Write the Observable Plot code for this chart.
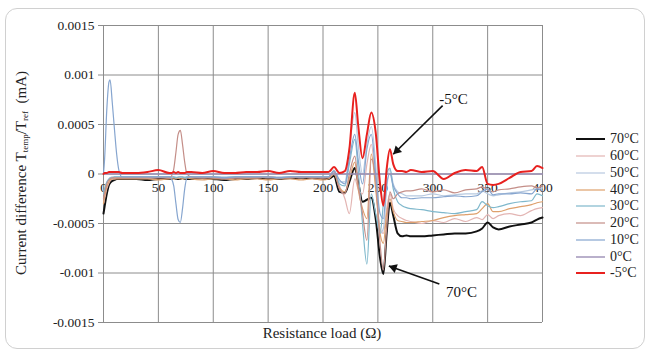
<!DOCTYPE html>
<html><head><meta charset="utf-8">
<script src="https://cdn.jsdelivr.net/npm/d3@7"></script>
<script src="https://cdn.jsdelivr.net/npm/@observablehq/plot@0.6"></script>
<style>
body{margin:0;background:#fff;}
#wrap{position:relative;width:650px;height:351px;font-family:'Liberation Serif','Times New Roman',serif;color:#222;overflow:hidden;background:#fff}
#frame{position:absolute;left:5px;top:8px;width:640px;height:341px;border:1px solid #d0d0d0;border-radius:12px;box-sizing:border-box}
#chart{position:absolute;left:0;top:0}
#chart svg, #chart svg text{font-family:'Liberation Serif','Times New Roman',serif !important}
#ylabel{position:absolute;left:21px;top:173px;transform:translate(-50%,-50%) rotate(-90deg);white-space:nowrap;font-size:15px}
#ylabel sub{font-size:9px;vertical-align:-2px}
#xlabel{position:absolute;left:322px;top:333px;transform:translate(-50%,-50%);white-space:nowrap;font-size:15px}
#legend{position:absolute;left:576px;top:131px;font-size:14px}
.item{display:flex;align-items:center;height:16.75px}
.item svg{margin-right:5px}
</style></head>
<body>
<div id="wrap">
  <div id="frame"></div>
  <div id="chart"></div>
  <div id="ylabel">Current difference T<sub>temp</sub>/T<sub>ref</sub> &nbsp;(mA)</div>
  <div id="xlabel">Resistance load (Ω)</div>
  <div id="legend"></div>
</div>
<script>
// Resistance load (Ω) sample points
const resistance = [0,1,3,5,6,8,10,12,14,17,20, 30,40,50,60, 62,64,66,68,70,72,74,76,80,
  90,100,110,120,130,140,150,160,170,180,190,200,
  205,210,215,220,224,229,232,236,240,244,248,252,255,258,261,264,268,272,276,280,
  290,300,310,320,330,340, 345,350,355,360, 370,380,390,395,400];

// Current difference (mA) per temperature
const c70 = [-40e-5,-33e-5,-20e-5,-11e-5,-9e-5,-7e-5,-6e-5,-5e-5,-5e-5,-5e-5,-5e-5,
  -5e-5,-6e-5,-5e-5,-5e-5,
  -5e-5,-4e-5,-5e-5,-5e-5,-5e-5,-4e-5,-5e-5,-5e-5,-5e-5,
  -4e-5,-5e-5,-6e-5,-5e-5,-5e-5,-4e-5,-5e-5,-5e-5,-4e-5,-4e-5,-4e-5,-5e-5,
  -5e-5,-2e-5,-18e-5,-19e-5,-8e-5,6e-5,-8e-5,-28e-5,-26e-5,-24e-5,-45e-5,-85e-5,-101e-5,-60e-5,-29e-5,-42e-5,-60e-5,-63e-5,-62e-5,-63e-5,
  -63e-5,-62e-5,-61e-5,-60e-5,-60e-5,-58e-5,
  -55e-5,-49e-5,-54e-5,-56e-5,
  -53e-5,-51e-5,-49e-5,-46e-5,-44e-5];
const c60 = [-30e-5,-25e-5,-15e-5,-9e-5,-7e-5,-5e-5,-5e-5,-4e-5,-4e-5,-4e-5,-4e-5,
  -4e-5,-4e-5,-3e-5,-4e-5,
  -4e-5,-3e-5,-4e-5,-4e-5,-3e-5,-4e-5,-4e-5,-3e-5,-4e-5,
  -4e-5,-3e-5,-4e-5,-4e-5,-4e-5,-3e-5,-4e-5,-4e-5,-3e-5,-4e-5,-3e-5,-4e-5,
  -3e-5,2e-5,-12e-5,-25e-5,-40e-5,-5e-5,-15e-5,-20e-5,10e-5,30e-5,-10e-5,-55e-5,-60e-5,-35e-5,-20e-5,-35e-5,-42e-5,-45e-5,-47e-5,-48e-5,
  -50e-5,-47e-5,-49e-5,-45e-5,-48e-5,-44e-5,
  -46e-5,-41e-5,-45e-5,-42e-5,
  -40e-5,-42e-5,-37e-5,-35e-5,-34e-5];
const c50 = [-20e-5,-15e-5,-9e-5,-5e-5,-4e-5,-3e-5,-3e-5,-3e-5,-3e-5,-3e-5,-3e-5,
  -3e-5,-3e-5,-3e-5,-3e-5,
  -3e-5,-3e-5,-3e-5,-4e-5,-3e-5,-3e-5,-3e-5,-3e-5,-3e-5,
  -3e-5,-3e-5,-3e-5,-3e-5,-3e-5,-3e-5,-3e-5,-3e-5,-3e-5,-3e-5,-3e-5,-3e-5,
  -3e-5,4e-5,-8e-5,-8e-5,25e-5,62e-5,30e-5,0,30e-5,48e-5,10e-5,-60e-5,-55e-5,-15e-5,5e-5,-10e-5,-18e-5,-20e-5,-22e-5,-22e-5,
  -22e-5,-20e-5,-22e-5,-21e-5,-20e-5,-20e-5,
  -17e-5,-20e-5,-22e-5,-21e-5,
  -19e-5,-18e-5,-16e-5,-15e-5,-14e-5];
const c40 = [-30e-5,-23e-5,-13e-5,-8e-5,-6e-5,-5e-5,-5e-5,-5e-5,-5e-5,-5e-5,-5e-5,
  -5e-5,-5e-5,-6e-5,-5e-5,
  -5e-5,-5e-5,-5e-5,-4e-5,-5e-5,-5e-5,-5e-5,-4e-5,-5e-5,
  -6e-5,-5e-5,-5e-5,-6e-5,-5e-5,-5e-5,-6e-5,-5e-5,-5e-5,-6e-5,-5e-5,-6e-5,
  -5e-5,0,-14e-5,-18e-5,-5e-5,12e-5,-15e-5,-35e-5,-45e-5,20e-5,-15e-5,-60e-5,-70e-5,-40e-5,-25e-5,-38e-5,-47e-5,-48e-5,-49e-5,-49e-5,
  -48e-5,-47e-5,-44e-5,-42e-5,-41e-5,-40e-5,
  -35e-5,-30e-5,-38e-5,-38e-5,
  -35e-5,-33e-5,-31e-5,-29e-5,-28e-5];
const c30 = [-20e-5,-15e-5,-8e-5,-5e-5,-4e-5,-4e-5,-3e-5,-3e-5,-3e-5,-3e-5,-3e-5,
  -3e-5,-3e-5,-3e-5,-3e-5,
  -3e-5,-3e-5,-4e-5,-3e-5,-3e-5,-3e-5,-4e-5,-3e-5,-3e-5,
  -3e-5,-3e-5,-4e-5,-3e-5,-3e-5,-3e-5,-3e-5,-4e-5,-3e-5,-3e-5,-3e-5,-3e-5,
  -3e-5,3e-5,-10e-5,-12e-5,10e-5,35e-5,5e-5,-50e-5,-91e-5,-20e-5,-40e-5,-60e-5,-30e-5,0,6e-5,-15e-5,-28e-5,-32e-5,-34e-5,-35e-5,
  -36e-5,-38e-5,-39e-5,-40e-5,-38e-5,-36e-5,
  -28e-5,-32e-5,-34e-5,-33e-5,
  -30e-5,-28e-5,-27e-5,-20e-5,-22e-5];
const c20 = [-25e-5,-19e-5,-10e-5,-6e-5,-5e-5,-4e-5,-4e-5,-4e-5,-4e-5,-4e-5,-4e-5,
  -4e-5,-4e-5,-4e-5,-4e-5,
  -2e-5,5e-5,22e-5,40e-5,44e-5,30e-5,12e-5,0,-3e-5,
  -4e-5,-4e-5,-5e-5,-4e-5,-4e-5,-4e-5,-3e-5,-4e-5,-4e-5,-3e-5,-4e-5,-4e-5,
  -4e-5,3e-5,-15e-5,-20e-5,0,18e-5,-10e-5,-40e-5,-67e-5,15e-5,-5e-5,-70e-5,-97e-5,-55e-5,-18e-5,-25e-5,-20e-5,-18e-5,-17e-5,-17e-5,
  -15e-5,-18e-5,-16e-5,-19e-5,-16e-5,-15e-5,
  -13e-5,-16e-5,-18e-5,-16e-5,
  -15e-5,-13e-5,-12e-5,-14e-5,-12e-5];
const c10 = [0,15e-5,65e-5,93e-5,95e-5,72e-5,45e-5,20e-5,4e-5,-3e-5,-3e-5,
  -3e-5,-3e-5,-3e-5,-3e-5,
  -5e-5,-12e-5,-30e-5,-46e-5,-49e-5,-35e-5,-15e-5,-4e-5,-3e-5,
  -3e-5,-3e-5,-4e-5,-3e-5,-3e-5,-3e-5,-3e-5,-4e-5,-3e-5,-3e-5,-3e-5,-3e-5,
  -3e-5,3e-5,-6e-5,-10e-5,15e-5,40e-5,15e-5,-10e-5,25e-5,40e-5,0,-40e-5,-45e-5,-10e-5,0,-12e-5,-20e-5,-24e-5,-24e-5,-25e-5,
  -24e-5,-24e-5,-23e-5,-22e-5,-23e-5,-22e-5,
  -18e-5,-15e-5,-21e-5,-20e-5,
  -20e-5,-19e-5,-20e-5,-15e-5,-17e-5];
const c0 = [0,0,0,0,0,0,0,0,0,0,0, 0,0,0,0, 0,0,0,0,0,0,0,0,0,
  0,0,0,0,0,0,0,0,0,0,0,0,
  0,0,0,0,0,0,0,0,0,0,0,0,0,0,0,0,0,0,0,0,
  0,0,0,0,0,0, 0,0,0,0, 0,0,0,0,0];
const cm5 = [0,1e-5,1e-5,2e-5,2e-5,2e-5,2e-5,2e-5,2e-5,1e-5,1e-5,
  1e-5,2e-5,4e-5,1e-5,
  1e-5,2e-5,1e-5,2e-5,1e-5,1e-5,1e-5,2e-5,2e-5,
  1e-5,3e-5,1e-5,1e-5,2e-5,2e-5,3e-5,1e-5,3e-5,2e-5,2e-5,2e-5,
  2e-5,7e-5,1e-5,3e-5,25e-5,82e-5,50e-5,16e-5,40e-5,62e-5,42e-5,-10e-5,-32e-5,5e-5,25e-5,10e-5,3e-5,3e-5,2e-5,4e-5,
  2e-5,3e-5,-5e-5,1e-5,4e-5,3e-5,
  7e-5,-10e-5,-11e-5,-10e-5,
  -4e-5,2e-5,3e-5,8e-5,6e-5];

const seriesNames = ["70°C","60°C","50°C","40°C","30°C","20°C","10°C","0°C","-5°C"];
const seriesValues = [c70,c60,c50,c40,c30,c20,c10,c0,cm5];

const xTicks = [0,50,100,150,200,250,300,350,400];
const yTickValues = [-0.0015,-0.001,-0.0005,0,0.0005,0.001,0.0015];
const yTickLabels = ["-0.0015","-0.001","-0.0005","0","0.0005","0.001","0.0015"];

// annotation: label anchor and arrow from/to (resistance, current)
const annLabels = ["-5°C","70°C"];
const annText = [[306,0.00076],[312,-0.00119]];
const annFrom = [[309,0.00069],[306,-0.00111]];
const annTo = [[264,0.00020],[260,-0.00093]];

// styles
const colors = {"70°C":"#111111","60°C":"#e3b5b3","50°C":"#b7c9df","40°C":"#dea06c","30°C":"#7fb8cc","20°C":"#c48e88","10°C":"#86a5cf","0°C":"#9b8fb5","-5°C":"#e8211f"};
const widths = {"70°C":2,"60°C":1.2,"50°C":1.2,"40°C":1.2,"30°C":1.2,"20°C":1.2,"10°C":1.2,"0°C":1.4,"-5°C":2};

const font = "Liberation Serif, Times New Roman, serif";

const lineMarks = seriesNames.map((name, k) => {
  const rows = resistance.map((r, i) => ({r, v: seriesValues[k][i]}));
  return Plot.line(rows, {x: "r", y: "v", stroke: colors[name], strokeWidth: widths[name], curve: "monotone-x"});
});

const ann = annLabels.map((t, i) => ({t, tx: annText[i][0], ty: annText[i][1],
  x1: annFrom[i][0], y1: annFrom[i][1], x2: annTo[i][0], y2: annTo[i][1]}));

function build(extra) {
  return Plot.plot({
    width: 650, height: 351,
    marginLeft: 103, marginRight: 108, marginTop: 25, marginBottom: 29,
    style: {fontFamily: font, fontSize: "13px", color: "#222", background: "transparent"},
    x: {domain: [0, 400], axis: null},
    y: {domain: [-0.0015, 0.0015], axis: null},
    marks: [
      Plot.gridX(xTicks, {stroke: "#8c8c8c", strokeOpacity: 1, strokeWidth: 1}),
      Plot.gridY(yTickValues, {stroke: "#8c8c8c", strokeOpacity: 1, strokeWidth: 1}),
      Plot.axisY(yTickValues, {tickSize: 5, tickPadding: 4, stroke: "#8c8c8c", fill: "#222", fontSize: 13.5,
        tickFormat: d => yTickLabels[yTickValues.indexOf(d)]}),
      Plot.text(xTicks, {x: d => d, y: 0, dy: 14, text: d => String(d), fill: "#222", fontSize: 13.5}),
      ...lineMarks,
      Plot.link(ann, {x1: "x1", y1: "y1", x2: "x2", y2: "y2", stroke: "#111", strokeWidth: 1.6}),
      Plot.text(ann, {x: "tx", y: "ty", text: "t", textAnchor: "start", fontSize: 15, fill: "#111"}),
      ...extra
    ]
  });
}

// first pass to get scales, then add filled arrowheads oriented along each arrow
let chart = build([]);
const sx = chart.scale("x"), sy = chart.scale("y");
const heads = ann.map(a => {
  const X1 = sx.apply(a.x1), Y1 = sy.apply(a.y1), X2 = sx.apply(a.x2), Y2 = sy.apply(a.y2);
  const L = Math.hypot(X2 - X1, Y2 - Y1), ux = (X2 - X1) / L, uy = (Y2 - Y1) / L;
  const back = 5.2;
  return {x: sx.invert(X2 - ux * back), y: sy.invert(Y2 - uy * back), rot: Math.atan2(ux, -uy) * 180 / Math.PI};
});
chart = build([Plot.dot(heads, {x: "x", y: "y", symbol: "triangle", r: 3.4, rotate: "rot", fill: "#111", stroke: "none"})]);
chart.setAttribute("font-family", font);
chart.querySelectorAll("g[font-family]").forEach(g => g.setAttribute("font-family", font));
document.getElementById("chart").appendChild(chart);

const legend = document.getElementById("legend");
seriesNames.forEach(name => {
  const item = document.createElement("div");
  item.className = "item";
  item.innerHTML = `<svg width="29" height="6"><line x1="0" x2="29" y1="3" y2="3" stroke="${colors[name]}" stroke-width="${widths[name]}"/></svg><span>${name}</span>`;
  legend.appendChild(item);
});
</script>
</body></html>
